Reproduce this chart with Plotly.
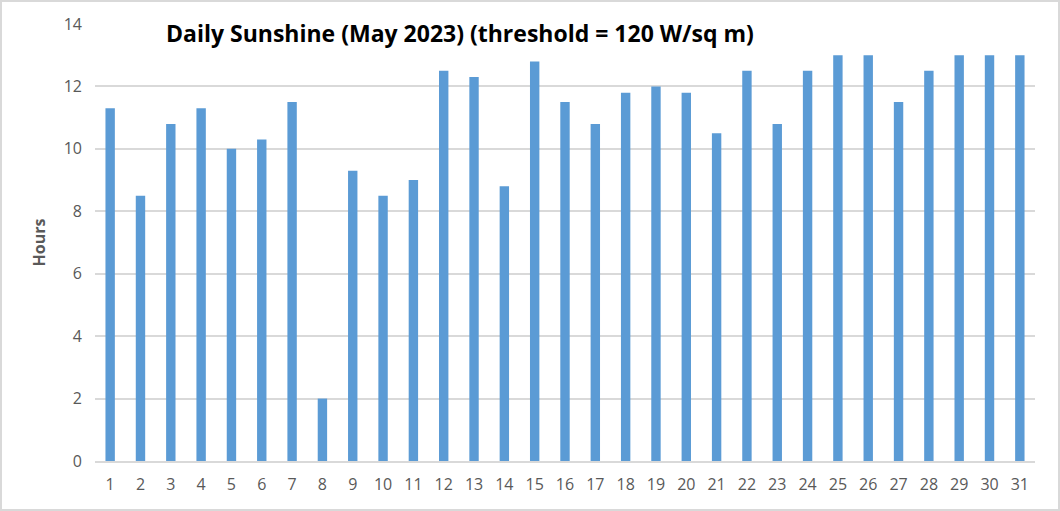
import plotly.graph_objects as go

days = [str(d) for d in range(1, 32)]
hours = [11.3, 8.5, 10.8, 11.3, 10.0, 10.3, 11.5, 2.0, 9.3, 8.5, 9.0,
         12.5, 12.3, 8.8, 12.8, 11.5, 10.8, 11.8, 12.0, 11.8, 10.5,
         12.5, 10.8, 12.5, 13.0, 13.0, 11.5, 12.5, 13.0, 13.0, 13.0]
title_text = "Daily Sunshine (May 2023) (threshold = 120 W/sq m)"
y_title = "Hours"

W, H = 1060, 511
ML, MR, MT, MB = 95, 25, 24, 50
PW, PH = W - ML - MR, H - MT - MB

fig = go.Figure(go.Bar(x=days, y=hours, marker_color="#5b9bd5", marker_line_width=0))

fig.update_layout(
    width=W, height=H,
    margin=dict(l=ML, r=MR, t=MT, b=MB),
    plot_bgcolor="white", paper_bgcolor="white",
    bargap=0.69,
    showlegend=False,
    font=dict(family="Open Sans", color="#595959", size=16),
)
fig.update_xaxes(type="category", showgrid=False, showline=True, linecolor="#d9d9d9",
                 linewidth=1.5, ticks="", tickfont=dict(size=16, color="#595959"),
                 ticklabelstandoff=8)
fig.update_yaxes(range=[0, 14], dtick=2, showgrid=True, gridcolor="#d9d9d9", gridwidth=1.5,
                 zeroline=False, showline=False, ticks="", tickfont=dict(size=16, color="#595959"),
                 ticklabelstandoff=12,
                 title=dict(text="<b>" + y_title + "</b>", font=dict(size=16, color="#595959"), standoff=14))

fig.add_annotation(text="<b>" + title_text + "</b>", xref="paper", yref="paper",
                   x=(460 - ML) / PW, y=1 - (33 - MT) / PH, xanchor="center", yanchor="middle",
                   showarrow=False, font=dict(family="Open Sans", size=23, color="black"))

fig.add_shape(type="rect", xref="paper", yref="paper",
              x0=-(ML - 1) / PW, x1=1 + (MR - 1) / PW,
              y0=-(MB - 1) / PH, y1=1 + (MT - 1) / PH,
              line=dict(color="#d9d9d9", width=2), layer="below")

fig.write_html("out.html", config={"displayModeBar": False},
               post_script="document.body.style.margin='0';document.body.style.overflow='hidden';")
